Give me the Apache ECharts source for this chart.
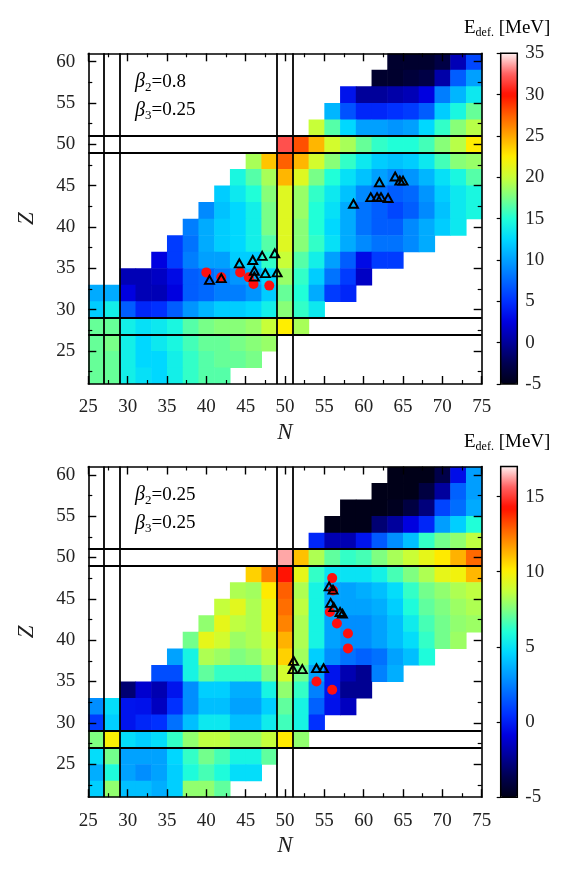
<!DOCTYPE html>
<html>
<head>
<meta charset="utf-8">
<script src="https://cdn.jsdelivr.net/npm/echarts@6/dist/echarts.min.js"></script>
<style>
  html, body { margin: 0; padding: 0; background: #fff; }
  #chart { width: 567px; height: 873px; }
</style>
</head>
<body>
<div id="chart"></div>
<script>
const _ = null;

// grid columns (N) and rows (Z), cells are 2x2 wide
const nValues = [26, 28, 30, 32, 34, 36, 38, 40, 42, 44, 46, 48, 50, 52, 54, 56, 58, 60, 62, 64, 66, 68, 70, 72, 74];
const zValues = [60, 58, 56, 54, 52, 50, 48, 46, 44, 42, 40, 38, 36, 34, 32, 30, 28, 26, 24, 22];

// E_def [MeV], beta2=0.8, beta3=0.25 (one row per Z, top to bottom)
const edefTop = [
  [_,_,_,_,_,_,_,_,_,_,_,_,_,_,_,_,_,_,_, -4, -4, -4, -3, 1, 6],
  [_,_,_,_,_,_,_,_,_,_,_,_,_,_,_,_,_,_, -4, -4, -3.5, -3, 0.5, 7, 10],
  [_,_,_,_,_,_,_,_,_,_,_,_,_,_,_,_, 3.5, 0, 0, 0.5, 1, 2.5, 8.5, 11, 13.5],
  [_,_,_,_,_,_,_,_,_,_,_,_,_,_,_, 11, 6.5, 4.5, 4.5, 5, 5.5, 7, 12, 14.5, 17],
  [_,_,_,_,_,_,_,_,_,_,_,_,_,_, 20, 16.5, 12.5, 10, 10, 9.5, 10, 12.5, 15.5, 18, 19.5],
  [_,_,_,_,_,_,_,_,_,_,_,_, 32, 28, 24.5, 20.5, 19, 17, 15.5, 15, 15, 16, 18, 19.5, 22.5],
  [_,_,_,_,_,_,_,_,_,_, 19, 24, 27.5, 24.5, 20.5, 18, 15.5, 13.5, 12, 11.5, 12, 13.5, 16, 18, 18.5],
  [_,_,_,_,_,_,_,_,_, 14.5, 16.5, 19, 24.5, 21, 17.5, 15, 13, 11.5, 10, 9, 9.5, 11, 13, 14.5, 16.5],
  [_,_,_,_,_,_,_,_, 12, 13.5, 15, 18, 21, 18.5, 15.5, 13.5, 11.5, 9, 8, 7, 7.5, 9.5, 12, 13.5, 14.5],
  [_,_,_,_,_,_,_, 9, 11.5, 12.5, 14, 17.5, 21, 18.5, 15, 13, 10.5, 8, 7, 6, 7, 9, 11.5, 13.5, 14.5],
  [_,_,_,_,_,_, 8.5, 10.5, 12, 12.5, 14, 17.5, 21, 18, 15, 12.5, 10.5, 8, 7, 7, 9, 10.5, 12, 13.5, _],
  [_,_,_,_,_, 5.5, 8, 10.5, 12, 12.5, 14, 16.5, 21, 18, 15.5, 13, 10.5, 9, 8, 8, 9, 10.5, _,_,_],
  [_,_,_,_, 2.5, 5.5, 8.5, 10, 10, 12, 12, 15.5, 20, 16.5, 14, 10, 7, 3, 5.5, 5.5, _,_,_,_,_],
  [_,_, 1, 1, 1.5, 3, 7, 7.5, 8.5, 9.5, 10.5, 12.5, 18.5, 15.5, 12, 8, 5.5, 1.5, _,_,_,_,_,_,_],
  [10.5, 10.5, 2.5, 1, 1, 2.5, 7, 7.5, 8.5, 8.5, 9.5, 12, 17, 15, 10.5, 5.5, 4.5, _,_,_,_,_,_,_,_],
  [12, 14, 7, 4.5, 5, 7, 9.5, 11, 12, 12, 12.5, 14, 18, 15.5, 13.5, _,_,_,_,_,_,_,_,_,_],
  [17, 17, 14, 13, 13.5, 14.5, 16.5, 17.5, 18, 18, 18.5, 20, 22.5, 19, _,_,_,_,_,_,_,_,_,_,_],
  [17, 17.5, 14, 12.5, 13.5, 14.5, 16, 17, 17, 17.5, 18, 18.5, _,_,_,_,_,_,_,_,_,_,_,_,_],
  [17, 17, 14, 12.5, 12.5, 14, 15.5, 16.5, 17, 17, 17.5, _,_,_,_,_,_,_,_,_,_,_,_,_,_],
  [17, 17, 14, 13, 12.5, 14, 15.5, 16.5, 16.5, _,_,_,_,_,_,_,_,_,_,_,_,_,_,_,_]
];

// E_def [MeV], beta2=0.25, beta3=0.25
const edefBottom = [
  [_,_,_,_,_,_,_,_,_,_,_,_,_,_,_,_,_,_,_, -5, -5, -5, -3.8, -0.5, 3.2],
  [_,_,_,_,_,_,_,_,_,_,_,_,_,_,_,_,_,_, -5, -5, -5, -4, -2.2, 1.7, 3.2],
  [_,_,_,_,_,_,_,_,_,_,_,_,_,_,_,_, -5, -5, -5, -4.8, -4, -2.8, 1, 2, 3.5],
  [_,_,_,_,_,_,_,_,_,_,_,_,_,_,_, -5, -5, -5, -3, -2.2, -0.9, 0.2, 3.2, 4.4, 6],
  [_,_,_,_,_,_,_,_,_,_,_,_,_,_, 0.2, -1.8, -1.8, -0.3, 1.5, 2.8, 4, 6.3, 7.3, 7.8, 8.6],
  [_,_,_,_,_,_,_,_,_,_,_,_, 16.3, 11, 8.3, 7, 6.3, 6.6, 7.5, 8.2, 8.8, 9.5, 10.2, 11.3, 12.7],
  [_,_,_,_,_,_,_,_,_,_, 10.7, 12.3, 14.3, 9.5, 6.3, 5, 5, 5, 5.5, 6.6, 7.5, 8.3, 9.5, 9.8, 11.2],
  [_,_,_,_,_,_,_,_,_, 8.3, 8.1, 10.2, 12.9, 8.3, 5.6, 3.3, 3.3, 3.6, 4, 4.8, 6.3, 7.3, 7.8, 8.3, 8.6],
  [_,_,_,_,_,_,_,_, 8.7, 9.4, 8.3, 9.6, 12.6, 8.6, 5.6, 3.3, 3.3, 3.3, 3.6, 4.4, 5.9, 7, 7.5, 8, 8.3],
  [_,_,_,_,_,_,_, 7.8, 9.5, 8.6, 8.3, 9.6, 12.2, 8.3, 5.6, 3.3, 2.8, 2.8, 3.3, 4, 5.3, 6.6, 7.3, 7.8, 8],
  [_,_,_,_,_,_, 7.3, 9.5, 9, 8, 8.3, 9, 11.3, 8.3, 5.6, 3.3, 2.8, 2.8, 3.3, 4, 4.8, 6.3, 7.3, 8, _],
  [_,_,_,_,_, 3.3, 5.6, 8.3, 8, 7.5, 7.8, 8.6, 10.7, 8.1, 4.4, 2.8, 2.1, 1.7, 2.1, 3.3, 4, 5.9, _,_,_],
  [_,_,_,_, 1.2, 1.2, 5.6, 7, 6.3, 6.3, 6.3, 7.5, 9, 7.3, 3.3, -0.3, -1.8, -2.4, 2.5, 3.6, _,_,_,_,_],
  [_,_, -3, -1.2, -1.8, -0.3, 2.8, 4.4, 4.4, 3.6, 3.6, 5.6, 7.8, 6.3, 2.5, -0.3, -2.4, -2.4, _,_,_,_,_,_,_],
  [2.8, 4.8, -0.3, -0.4, -1.5, 0.5, 2.8, 4, 4, 3.3, 3.3, 4.4, 7, 5.6, 1.7, -0.4, -1.5, _,_,_,_,_,_,_,_],
  [0.8, 4.4, -0.3, 0.2, 0.5, 2.1, 4, 5.2, 5.2, 4, 4, 5.3, 6.5, 5.6, 0.5, _,_,_,_,_,_,_,_,_,_],
  [7.5, 10, 4.8, 4.4, 4.8, 6.3, 7.8, 8.6, 8.6, 8, 8, 8.7, 10.2, 7.8, _,_,_,_,_,_,_,_,_,_,_],
  [4.8, 7.3, 3.3, 3.3, 3.3, 4.6, 6.3, 7.3, 6.6, 5.6, 5.6, 7, _,_,_,_,_,_,_,_,_,_,_,_,_],
  [3.6, 5.9, 3.3, 2.8, 3.3, 4.4, 5.9, 6.6, 5.9, 4.8, 4.8, _,_,_,_,_,_,_,_,_,_,_,_,_,_],
  [4.4, 7.8, 4, 4, 3.6, 4.4, 7.8, 7.8, 7, _,_,_,_,_,_,_,_,_,_,_,_,_,_,_,_]
];

// experimental nuclei: [N, Z]
const topCircles = [[40.0, 34.5], [41.9, 33.9], [44.3, 34.5], [45.4, 33.9], [46.0, 33.1], [48.0, 32.9]];
const topTriangles = [[40.4, 33.6], [41.9, 33.8], [44.2, 35.6], [45.9, 36.0], [47.1, 36.5], [48.7, 36.8],
  [46.1, 34.7], [46.1, 34.0], [47.5, 34.4], [49.0, 34.5], [58.7, 42.8], [60.9, 43.6], [61.7, 43.6],
  [62.2, 43.6], [63.1, 43.5], [62.0, 45.4], [64.0, 46.1], [64.6, 45.6], [65.0, 45.6]];
const bottomCircles = [[56.0, 47.5], [56.1, 46.0], [55.7, 43.4], [56.6, 42.0], [58.0, 40.8], [58.0, 39.0], [54.0, 35.0], [56.0, 34.0]];
const bottomTriangles = [[55.6, 46.5], [56.1, 46.1], [55.8, 44.5], [56.2, 44.0], [57.0, 43.4], [57.3, 43.2],
  [51.1, 37.5], [51.0, 36.5], [52.2, 36.5], [54.0, 36.6], [54.9, 36.6]];

const magicLines = [27, 29, 49, 51];
const zTicks = [25, 30, 35, 40, 45, 50, 55, 60];
const zMinorTicks = [22.5, 27.5, 32.5, 37.5, 42.5, 47.5, 52.5, 57.5];
const topRange = [-5, 35];
const bottomRange = [-5, 17];

const jetColors = ['#000018', '#000050', '#00009a', '#0000e0', '#0030ff', '#0068ff', '#00a0ff', '#00d8ff',
  '#20ffd8', '#78ff88', '#c8ff38', '#ffee00', '#ffa800', '#ff6000', '#ff1000', '#ff6060', '#fff0f0'];

const serif = 'Liberation Serif';
const plotLeft = 88.3, plotW = 393.4, plotH = 330.7;
const panelTops = [53.3, 466.5];

function toCells(grid) {
  const out = [];
  grid.forEach((row, j) => row.forEach((v, i) => {
    if (v !== null) out.push([nValues[i], zValues[j], v]);
  }));
  return out;
}

function renderCell(params, api) {
  const n = api.value(0), z = api.value(1);
  const p0 = api.coord([n - 1, z + 1]);
  const p1 = api.coord([n + 1, z - 1]);
  return {
    type: 'rect',
    shape: { x: p0[0], y: p0[1], width: p1[0] - p0[0] + 0.6, height: p1[1] - p0[1] + 0.6 },
    style: { fill: api.visual('color') }
  };
}

const grids = [], xAxes = [], yAxes = [], series = [];
const lineStyle = { color: '#000', width: 1.6 };

panelTops.forEach((top, p) => {
  grids.push({ left: plotLeft, top: top, width: plotW, height: plotH });
  ['bottom', 'top'].forEach(pos => {
    xAxes.push({
      gridIndex: p, type: 'value', position: pos, min: 25, max: 75, interval: 5,
      axisLine: { show: true, onZero: false, lineStyle: lineStyle },
      axisTick: { inside: true, length: 8, lineStyle: { color: '#000', width: 1.4 } },
      minorTick: { show: true, splitNumber: 2, length: 4, lineStyle: { color: '#000', width: 1.2 } },
      axisLabel: { show: pos === 'bottom', fontFamily: serif, fontSize: 19, color: '#222', margin: 14 },
      splitLine: { show: false },
      name: pos === 'bottom' ? 'N' : '', nameLocation: 'middle', nameGap: 37,
      nameTextStyle: { fontFamily: serif, fontStyle: 'italic', fontSize: 23, color: '#222' },
      z: 5
    });
  });
  ['left', 'right'].forEach(pos => {
    yAxes.push({
      gridIndex: p, type: 'value', position: pos, min: 21, max: 61,
      axisLine: { show: true, onZero: false, lineStyle: lineStyle },
      axisTick: { inside: true, length: 8, customValues: zTicks, lineStyle: { color: '#000', width: 1.4 } },
      axisLabel: { show: pos === 'left', customValues: zTicks, fontFamily: serif, fontSize: 19, color: '#222', margin: 13 },
      splitLine: { show: false },
      name: pos === 'left' ? 'Z' : '', nameLocation: 'middle', nameGap: 50,
      nameTextStyle: { fontFamily: serif, fontStyle: 'italic', fontSize: 23, color: '#222' },
      z: 5
    });
    yAxes.push({
      gridIndex: p, type: 'value', position: pos, min: 21, max: 61,
      axisLine: { show: false },
      axisTick: { inside: true, length: 4, customValues: zMinorTicks, lineStyle: { color: '#000', width: 1.2 } },
      axisLabel: { show: false },
      splitLine: { show: false },
      z: 5
    });
  });
});

// colour bar frames + tick labels
[[topRange, 53.3], [bottomRange, 466.5]].forEach(([range, top], k) => {
  const gi = 2 + k;
  grids.push({ left: 500.7, top: top, width: 16.6, height: plotH, show: true, borderColor: '#000', borderWidth: 1.5, backgroundColor: 'transparent', z: 10 });
  xAxes.push({ gridIndex: gi, type: 'value', show: false, min: 0, max: 1 });
  yAxes.push({
    gridIndex: gi, type: 'value', position: 'right', min: range[0], max: range[1], interval: 5,
    axisLine: { show: false },
    axisTick: { inside: true, length: 4, lineStyle: { color: '#000', width: 1.2 } },
    axisLabel: { fontFamily: serif, fontSize: 19, color: '#222', margin: 8, showMaxLabel: range[1] % 5 === 0 },
    splitLine: { show: false },
    z: 11
  });
});

[[edefTop, topCircles, topTriangles], [edefBottom, bottomCircles, bottomTriangles]].forEach(([grid, circles, tris], p) => {
  const xi = 2 * p, yi = 4 * p;
  series.push({
    type: 'custom', xAxisIndex: xi, yAxisIndex: yi, renderItem: renderCell,
    encode: { x: 0, y: 1 }, data: toCells(grid), clip: true, z: 1
  });
  series.push({
    type: 'scatter', xAxisIndex: xi, yAxisIndex: yi, data: circles, symbol: 'circle', symbolSize: 10,
    itemStyle: { color: '#ff0f0f', opacity: 1 }, z: 4,
    markLine: {
      silent: true, symbol: 'none', label: { show: false }, animation: false,
      lineStyle: { color: '#000', width: 1.8, type: 'solid', opacity: 1 },
      data: magicLines.map(v => ({ xAxis: v })).concat(magicLines.map(v => ({ yAxis: v })))
    }
  });
  series.push({
    type: 'scatter', xAxisIndex: xi, yAxisIndex: yi, data: tris, symbol: 'triangle', symbolSize: [9, 8],
    itemStyle: { color: 'rgba(0,0,0,0)', borderColor: '#000', borderWidth: 1.9, opacity: 1 }, z: 5
  });
});

const visualMaps = [[topRange, 0, 53.3], [bottomRange, 3, 466.5]].map(([range, si, top]) => ({
  type: 'continuous', min: range[0], max: range[1], seriesIndex: si, dimension: 2,
  inRange: { color: jetColors }, left: 500.7, top: top, itemWidth: 16.6, itemHeight: plotH,
  padding: 0, calculable: false, hoverLink: false, realtime: false
}));

function betaText(y, b2) {
  const rich = {
    b: { fontFamily: serif, fontStyle: 'italic', fontSize: 20, color: '#222' },
    s: { fontFamily: serif, fontSize: 13, color: '#222', padding: [11, 0, 0, 0] },
    t: { fontFamily: serif, fontSize: 19, color: '#222' }
  };
  return [
    { type: 'text', x: 135, y: y, style: { text: '{b|β}{s|2}{t|=' + b2 + '}', rich: rich, verticalAlign: 'middle' } },
    { type: 'text', x: 135, y: y + 28.5, style: { text: '{b|β}{s|3}{t|=0.25}', rich: rich, verticalAlign: 'middle' } }
  ];
}

function unitText(y) {
  return {
    type: 'text', x: 464, y: y,
    style: {
      text: '{e|E}{s|def.}{n| [MeV]}', verticalAlign: 'middle',
      rich: {
        e: { fontFamily: serif, fontSize: 19, color: '#222' },
        s: { fontFamily: serif, fontSize: 12, color: '#222', padding: [9, 0, 0, 0] },
        n: { fontFamily: serif, fontSize: 19, color: '#222' }
      }
    }
  };
}

const chart = echarts.init(document.getElementById('chart'), null, { renderer: 'canvas' });
chart.setOption({
  animation: false,
  backgroundColor: '#fff',
  grid: grids,
  xAxis: xAxes,
  yAxis: yAxes,
  visualMap: visualMaps,
  series: series,
  graphic: [].concat(betaText(82, '0.8'), betaText(495, '0.25'), [unitText(28), unitText(442)])
});
</script>
</body>
</html>
